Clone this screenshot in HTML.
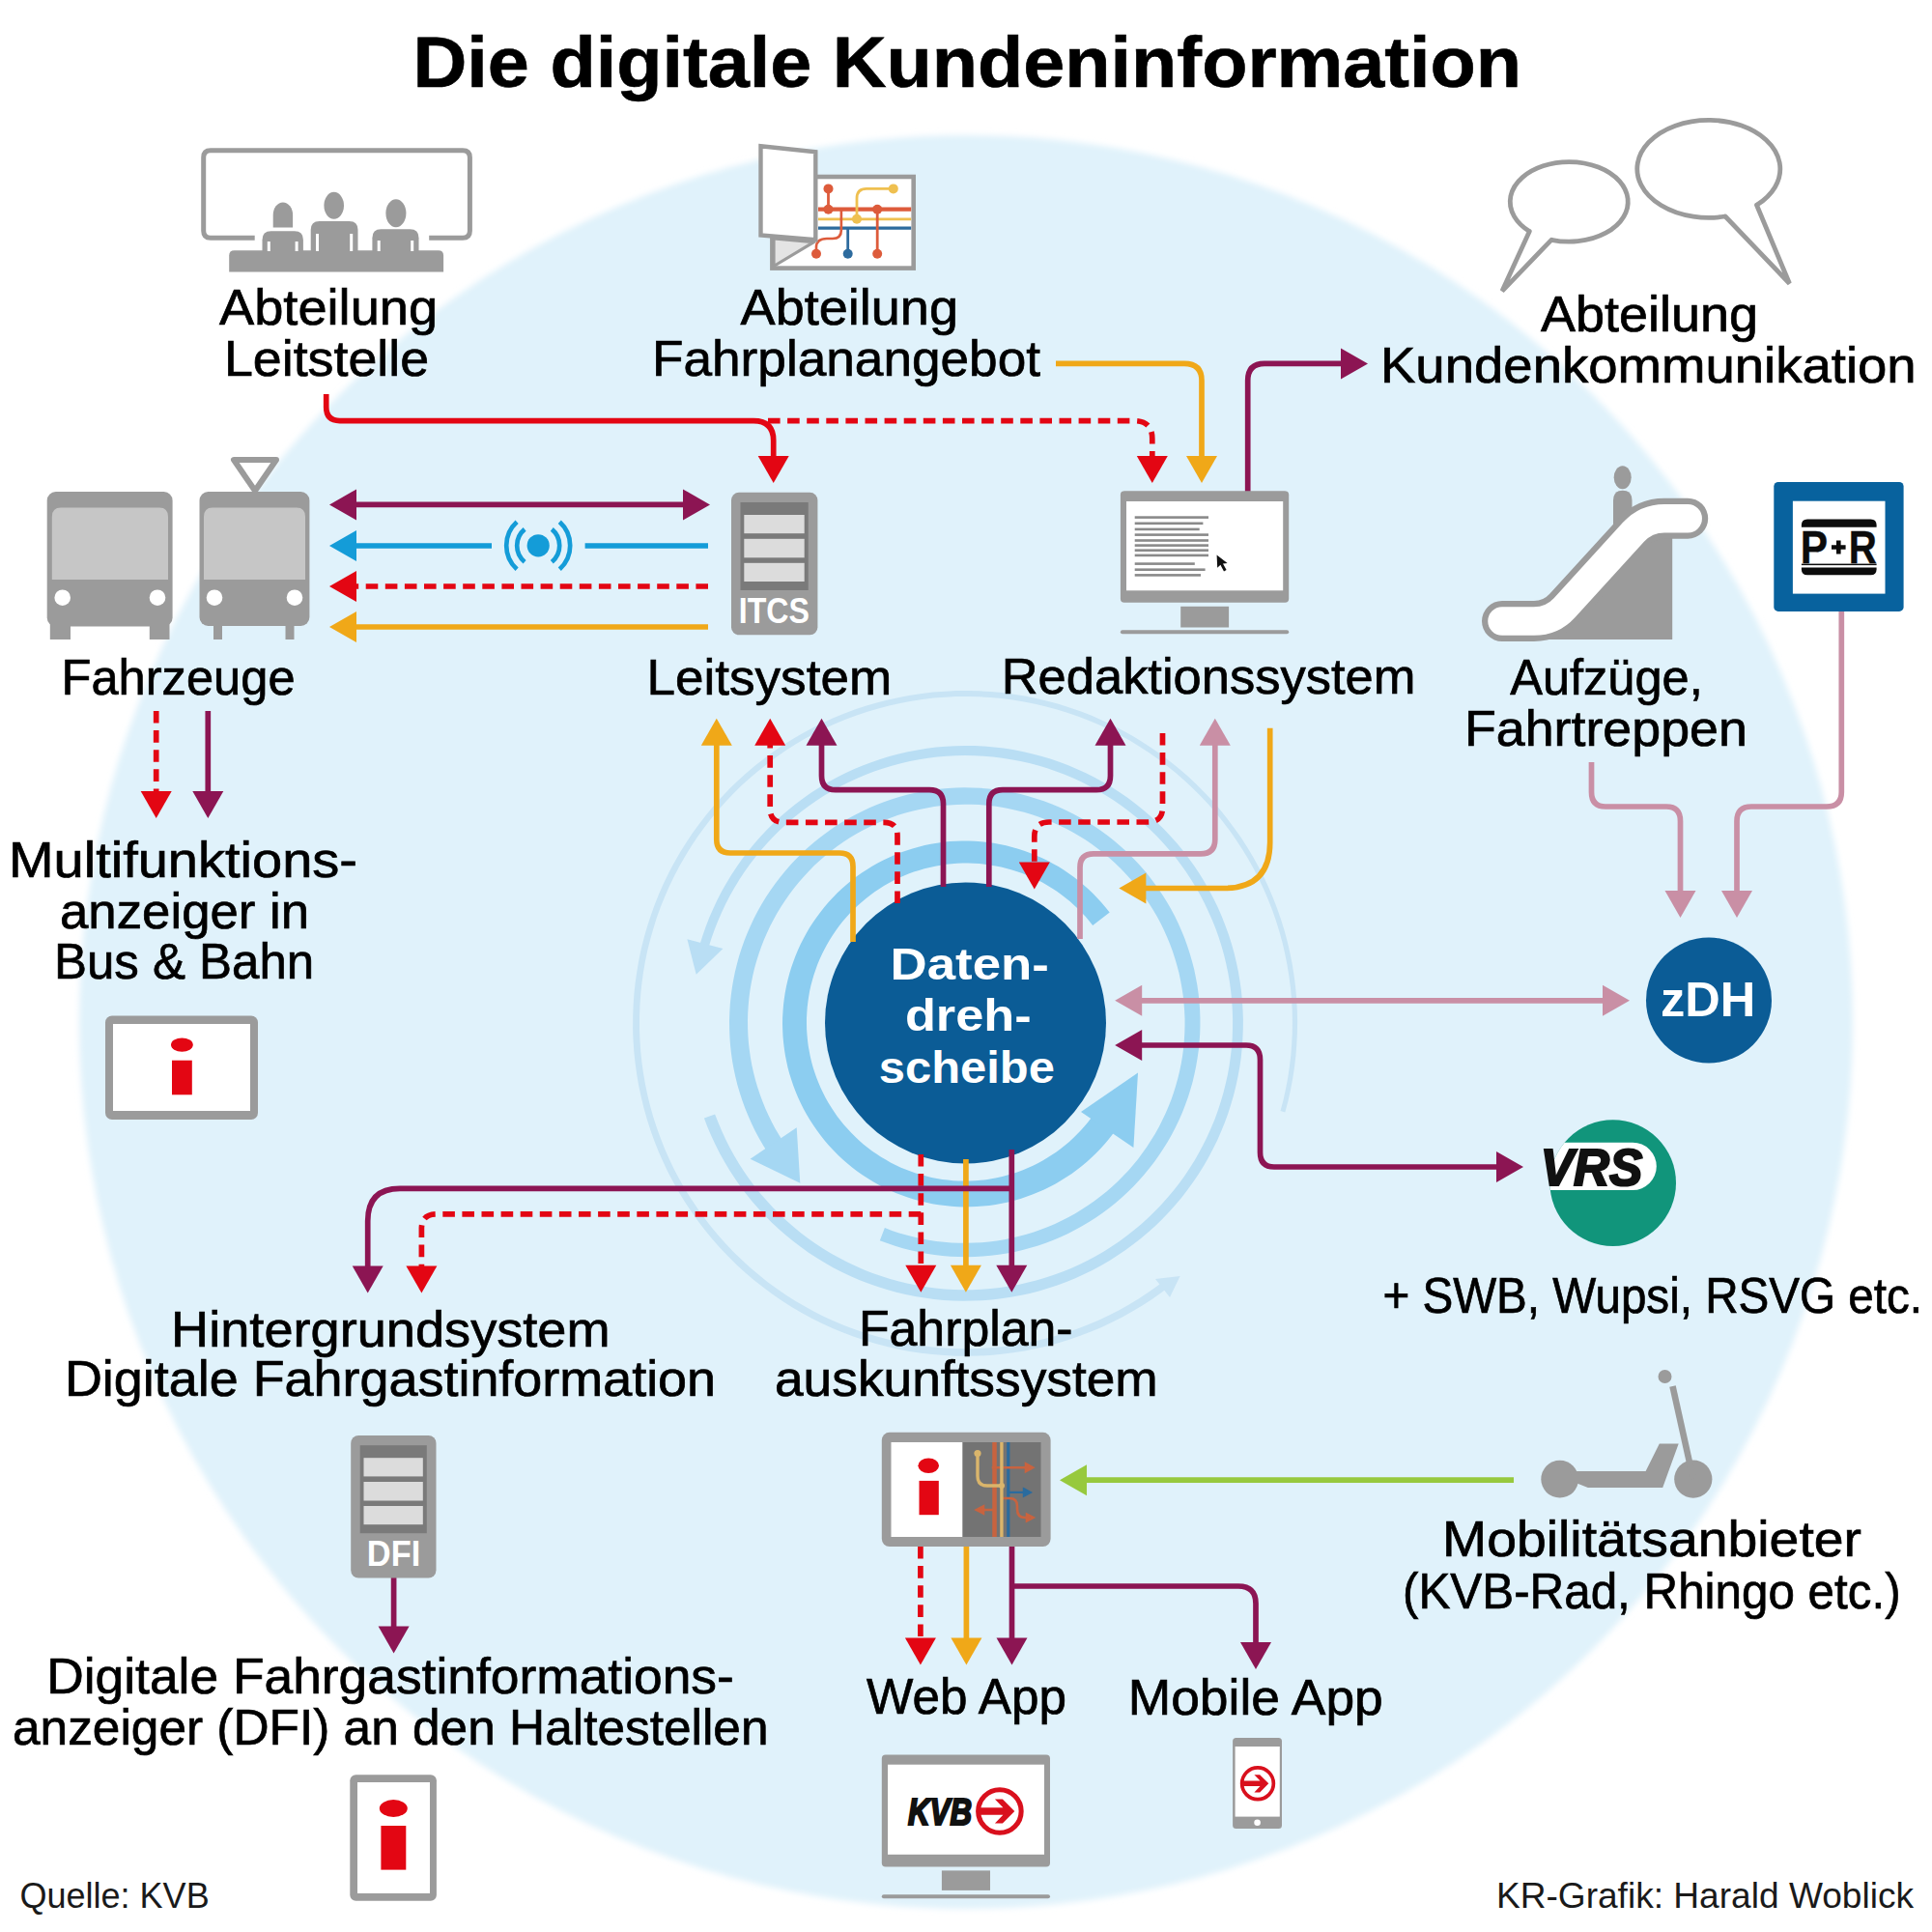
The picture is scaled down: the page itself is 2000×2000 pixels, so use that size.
<!DOCTYPE html>
<html><head><meta charset="utf-8"><title>Die digitale Kundeninformation</title>
<style>html,body{margin:0;padding:0;background:#fff}svg{display:block}text{font-family:"Liberation Sans",sans-serif}</style></head>
<body>
<svg width="2000" height="2000" viewBox="0 0 2000 2000">
<rect width="2000" height="2000" fill="#fff"/>
<defs><filter id="soft" x="-5%" y="-5%" width="110%" height="110%"><feGaussianBlur stdDeviation="3"/></filter></defs>
<circle cx="1000" cy="1058" r="918" fill="#e0f2fb" filter="url(#soft)"/>
<polygon points="1330.3,1151.4 1333.4,1139.9 1336.0,1128.2 1338.2,1116.6 1340.0,1104.8 1341.4,1093.0 1342.3,1081.1 1342.9,1069.2 1343.1,1057.3 1342.8,1045.4 1342.1,1033.5 1341.1,1021.7 1339.6,1009.9 1337.7,998.1 1335.4,986.4 1332.7,974.8 1329.6,963.3 1326.1,952.0 1322.2,940.7 1317.9,929.6 1313.2,918.6 1308.2,907.8 1302.8,897.2 1297.0,886.8 1290.8,876.6 1284.4,866.6 1277.5,856.9 1270.4,847.4 1262.9,838.1 1255.1,829.1 1247.0,820.4 1238.6,811.9 1229.9,803.8 1220.9,796.0 1211.6,788.4 1202.2,781.2 1192.4,774.4 1182.4,767.9 1172.3,761.7 1161.9,755.9 1151.3,750.4 1140.5,745.4 1129.5,740.6 1118.4,736.3 1107.2,732.4 1095.8,728.8 1084.3,725.7 1072.7,723.0 1061.0,720.6 1049.3,718.7 1037.5,717.1 1025.6,716.0 1013.7,715.3 1001.8,715.0 989.9,715.1 978.0,715.7 966.1,716.6 954.2,718.0 942.4,719.7 930.7,721.9 919.1,724.5 907.5,727.5 896.1,730.8 884.8,734.6 873.6,738.8 862.6,743.3 851.7,748.2 841.1,753.5 830.6,759.2 820.3,765.2 810.2,771.6 800.4,778.3 790.8,785.4 781.4,792.8 772.3,800.5 763.5,808.5 754.9,816.8 746.7,825.4 738.7,834.3 731.1,843.5 723.8,852.9 716.8,862.6 710.2,872.5 703.9,882.6 697.9,893.0 692.3,903.5 687.1,914.2 682.3,925.1 677.8,936.2 673.8,947.4 670.1,958.8 666.8,970.2 663.9,981.8 661.4,993.5 659.4,1005.2 657.7,1017.0 656.4,1028.9 655.6,1040.8 655.2,1052.7 655.1,1064.7 655.5,1076.6 656.3,1088.5 657.6,1100.4 659.2,1112.2 661.2,1124.0 663.7,1135.6 666.5,1147.2 669.8,1158.7 673.4,1170.1 677.4,1181.3 681.9,1192.4 686.7,1203.3 691.8,1214.1 697.4,1224.6 703.3,1235.0 709.6,1245.2 716.2,1255.1 723.1,1264.8 730.4,1274.3 738.0,1283.5 746.0,1292.4 754.2,1301.1 762.7,1309.4 771.5,1317.5 780.6,1325.2 790.0,1332.6 799.6,1339.7 809.4,1346.5 819.5,1352.9 829.8,1359.0 840.3,1364.7 850.9,1370.1 861.8,1375.0 872.8,1379.6 884.0,1383.8 895.3,1387.6 906.8,1391.0 918.3,1394.1 930.0,1396.7 941.7,1398.9 953.5,1400.7 965.4,1402.1 977.3,1403.1 989.2,1403.7 1001.2,1403.8 1013.1,1403.6 1025.1,1402.9 1037.0,1401.8 1048.8,1400.3 1060.6,1398.4 1072.3,1396.1 1084.0,1393.4 1095.5,1390.3 1106.9,1386.8 1118.2,1382.8 1129.4,1378.5 1140.4,1373.9 1151.2,1368.8 1161.8,1363.4 1172.3,1357.6 1182.5,1351.4 1192.6,1344.9 1202.4,1338.1 1211.9,1330.9 1207.0,1324.6 1197.7,1331.6 1188.1,1338.3 1178.3,1344.7 1168.3,1350.7 1158.1,1356.4 1147.7,1361.7 1137.2,1366.7 1126.4,1371.3 1115.5,1375.5 1104.5,1379.3 1093.3,1382.8 1082.1,1385.8 1070.7,1388.5 1059.2,1390.8 1047.7,1392.7 1036.1,1394.2 1024.5,1395.2 1012.8,1395.9 1001.1,1396.2 989.5,1396.0 977.8,1395.5 966.1,1394.5 954.5,1393.2 943.0,1391.5 931.5,1389.3 920.1,1386.8 908.8,1383.8 897.6,1380.5 886.5,1376.8 875.6,1372.7 864.8,1368.2 854.1,1363.4 843.7,1358.2 833.4,1352.6 823.3,1346.7 813.5,1340.4 803.8,1333.8 794.4,1326.9 785.3,1319.6 776.3,1312.0 767.7,1304.1 759.3,1296.0 751.3,1287.5 743.5,1278.8 736.0,1269.8 728.9,1260.5 722.1,1251.1 715.6,1241.3 709.4,1231.4 703.6,1221.2 698.1,1210.9 693.1,1200.4 688.3,1189.7 684.0,1178.8 680.0,1167.8 676.4,1156.7 673.2,1145.4 670.4,1134.1 668.0,1122.6 666.0,1111.1 664.4,1099.5 663.2,1087.9 662.4,1076.2 662.0,1064.6 662.0,1052.9 662.4,1041.2 663.2,1029.5 664.4,1017.9 666.0,1006.3 668.0,994.8 670.4,983.3 673.3,971.9 676.5,960.7 680.0,949.6 684.0,938.6 688.4,927.7 693.1,917.0 698.2,906.5 703.7,896.1 709.5,886.0 715.6,876.0 722.1,866.3 729.0,856.8 736.1,847.5 743.6,838.5 751.4,829.8 759.5,821.3 767.8,813.1 776.5,805.2 785.4,797.7 794.6,790.4 804.0,783.5 813.7,776.8 823.5,770.6 833.6,764.6 843.9,759.1 854.4,753.8 865.1,749.0 875.9,744.5 886.9,740.4 898.0,736.7 909.2,733.4 920.5,730.4 931.9,727.9 943.5,725.7 955.0,724.0 966.7,722.6 978.3,721.7 990.0,721.1 1001.7,721.0 1013.5,721.3 1025.1,721.9 1036.8,723.0 1048.4,724.5 1060.0,726.4 1071.5,728.7 1082.9,731.4 1094.2,734.4 1105.4,737.9 1116.4,741.8 1127.4,746.0 1138.1,750.6 1148.7,755.6 1159.2,760.9 1169.4,766.6 1179.4,772.7 1189.2,779.1 1198.8,785.8 1208.2,792.9 1217.3,800.3 1226.1,807.9 1234.7,815.9 1243.0,824.2 1251.0,832.8 1258.7,841.6 1266.0,850.7 1273.1,860.1 1279.8,869.7 1286.2,879.5 1292.3,889.5 1298.0,899.8 1303.3,910.2 1308.3,920.8 1312.9,931.6 1317.2,942.5 1321.0,953.6 1324.5,964.8 1327.6,976.1 1330.2,987.5 1332.5,999.0 1334.4,1010.6 1335.9,1022.2 1337.0,1033.9 1337.7,1045.6 1337.9,1057.3 1337.8,1069.1 1337.2,1080.8 1336.3,1092.5 1334.9,1104.1 1333.2,1115.7 1331.0,1127.2 1328.5,1138.7 1325.5,1150.0" fill="#c8e4f5"/>
<polygon points="1221.6,1321.0 1196.0,1324.0 1211.0,1343.0" fill="#c8e4f5"/>
<polygon points="728.9,1157.5 732.4,1166.8 736.4,1176.0 740.6,1185.0 745.1,1193.9 749.9,1202.6 755.1,1211.2 760.5,1219.6 766.2,1227.8 772.2,1235.7 778.4,1243.5 785.0,1251.0 791.8,1258.3 798.8,1265.4 806.1,1272.2 813.6,1278.8 821.3,1285.1 829.2,1291.1 837.4,1296.9 845.7,1302.3 854.3,1307.5 862.9,1312.4 871.8,1317.0 880.8,1321.2 890.0,1325.2 899.3,1328.8 908.7,1332.1 918.2,1335.1 927.8,1337.7 937.5,1340.0 947.3,1342.0 957.1,1343.6 967.0,1344.9 976.9,1345.9 986.9,1346.5 996.8,1346.7 1006.8,1346.6 1016.7,1346.2 1026.7,1345.4 1036.6,1344.3 1046.4,1342.8 1056.2,1341.0 1066.0,1338.9 1075.6,1336.4 1085.2,1333.6 1094.6,1330.5 1104.0,1327.0 1113.2,1323.2 1122.3,1319.1 1131.2,1314.7 1140.0,1310.0 1148.6,1305.0 1157.0,1299.6 1165.2,1294.0 1173.3,1288.1 1181.1,1282.0 1188.7,1275.6 1196.1,1268.9 1203.2,1261.9 1210.1,1254.7 1216.8,1247.3 1223.2,1239.7 1229.3,1231.8 1235.1,1223.8 1240.7,1215.5 1246.0,1207.0 1250.9,1198.4 1255.6,1189.6 1260.0,1180.7 1264.0,1171.6 1267.8,1162.3 1271.2,1153.0 1274.2,1143.5 1277.0,1133.9 1279.4,1124.3 1281.5,1114.5 1283.3,1104.7 1284.7,1094.9 1285.7,1085.0 1286.4,1075.1 1286.8,1065.1 1286.9,1055.2 1286.5,1045.2 1285.9,1035.3 1284.9,1025.4 1283.5,1015.5 1281.9,1005.7 1279.8,996.0 1277.5,986.3 1274.8,976.7 1271.8,967.2 1268.4,957.9 1264.7,948.6 1260.8,939.5 1256.4,930.5 1251.8,921.7 1246.9,913.0 1241.7,904.6 1236.2,896.3 1230.4,888.2 1224.4,880.3 1218.0,872.6 1211.4,865.2 1204.6,857.9 1197.5,851.0 1190.2,844.2 1182.6,837.8 1174.8,831.6 1166.9,825.6 1158.7,820.0 1150.3,814.6 1141.7,809.5 1133.0,804.8 1124.1,800.3 1115.1,796.2 1105.9,792.3 1096.6,788.8 1087.2,785.6 1077.7,782.7 1068.0,780.2 1058.4,778.0 1048.6,776.1 1038.8,774.6 1028.9,773.4 1019.0,772.6 1009.0,772.1 999.1,772.0 989.2,772.2 979.2,772.7 969.3,773.6 959.5,774.8 949.6,776.4 939.9,778.3 930.2,780.5 920.6,783.1 911.1,786.0 901.7,789.2 892.4,792.8 883.3,796.6 874.2,800.8 865.4,805.3 856.7,810.1 848.2,815.2 839.8,820.6 831.7,826.3 823.7,832.3 816.0,838.5 808.4,845.0 801.1,851.8 794.1,858.8 787.3,866.0 780.7,873.5 774.4,881.2 768.4,889.1 762.7,897.2 757.2,905.5 752.1,914.0 747.2,922.6 742.6,931.4 738.4,940.4 734.4,949.5 730.8,958.8 727.5,968.2 724.5,977.6 721.9,987.2 731.1,989.6 733.7,980.3 736.5,971.2 739.8,962.1 743.3,953.2 747.1,944.4 751.2,935.7 755.6,927.2 760.4,918.8 765.4,910.6 770.7,902.6 776.2,894.8 782.0,887.2 788.1,879.7 794.5,872.5 801.1,865.5 807.9,858.8 814.9,852.3 822.2,846.0 829.7,840.0 837.4,834.3 845.3,828.8 853.3,823.6 861.6,818.7 870.0,814.1 878.6,809.7 887.3,805.7 896.1,802.0 905.1,798.5 914.2,795.4 923.3,792.7 932.6,790.2 942.0,788.0 951.4,786.2 960.9,784.7 970.4,783.6 979.9,782.7 989.5,782.2 999.1,782.0 1008.7,782.2 1018.3,782.7 1027.8,783.5 1037.4,784.7 1046.8,786.2 1056.3,788.0 1065.6,790.1 1074.9,792.6 1084.1,795.3 1093.1,798.4 1102.1,801.8 1111.0,805.6 1119.7,809.6 1128.2,813.9 1136.6,818.5 1144.9,823.4 1152.9,828.6 1160.8,834.0 1168.5,839.8 1176.0,845.8 1183.3,852.0 1190.3,858.5 1197.2,865.2 1203.7,872.2 1210.1,879.4 1216.2,886.8 1222.0,894.4 1227.6,902.2 1232.8,910.2 1237.9,918.4 1242.6,926.7 1247.0,935.2 1251.1,943.9 1255.0,952.7 1258.5,961.6 1261.7,970.6 1264.6,979.8 1267.2,989.0 1269.4,998.3 1271.4,1007.7 1273.0,1017.1 1274.2,1026.6 1275.2,1036.2 1275.8,1045.7 1276.1,1055.3 1276.0,1064.9 1275.7,1074.5 1275.0,1084.0 1273.9,1093.5 1272.6,1103.0 1270.9,1112.5 1268.8,1121.8 1266.5,1131.1 1263.8,1140.3 1260.8,1149.4 1257.6,1158.4 1253.9,1167.3 1250.0,1176.0 1245.8,1184.6 1241.3,1193.1 1236.5,1201.4 1231.4,1209.5 1226.1,1217.4 1220.5,1225.2 1214.6,1232.7 1208.4,1240.1 1202.0,1247.2 1195.4,1254.1 1188.5,1260.7 1181.4,1267.2 1174.1,1273.3 1166.5,1279.2 1158.8,1284.9 1150.9,1290.3 1142.8,1295.4 1134.5,1300.2 1126.1,1304.7 1117.5,1308.9 1108.7,1312.9 1099.9,1316.5 1090.9,1319.8 1081.8,1322.8 1072.6,1325.5 1063.3,1327.8 1054.0,1329.9 1044.6,1331.6 1035.1,1333.0 1025.6,1334.1 1016.1,1334.8 1006.5,1335.2 996.9,1335.3 987.4,1335.0 977.8,1334.4 968.3,1333.5 958.8,1332.2 949.4,1330.6 940.0,1328.7 930.7,1326.5 921.5,1324.0 912.3,1321.1 903.3,1317.9 894.4,1314.4 885.6,1310.6 877.0,1306.5 868.5,1302.1 860.2,1297.4 852.0,1292.4 844.0,1287.2 836.2,1281.7 828.6,1275.9 821.2,1269.8 814.0,1263.5 807.0,1256.9 800.3,1250.2 793.8,1243.1 787.5,1235.9 781.5,1228.4 775.8,1220.8 770.4,1212.9 765.2,1204.9 760.3,1196.7 755.6,1188.3 751.3,1179.8 747.3,1171.1 743.6,1162.3 740.1,1153.4" fill="#b9def4"/>
<polygon points="720.7,1008.7 711.4,972.2 748.4,982.0" fill="#b9def4"/>
<polygon points="910.8,1284.2 918.6,1287.1 926.5,1289.8 934.6,1292.2 942.6,1294.3 950.8,1296.1 959.0,1297.7 967.3,1299.0 975.6,1300.0 983.9,1300.7 992.3,1301.1 1000.6,1301.2 1009.0,1301.0 1017.3,1300.6 1025.7,1299.8 1034.0,1298.8 1042.2,1297.5 1050.5,1295.9 1058.6,1294.0 1066.7,1291.8 1074.7,1289.4 1082.6,1286.7 1090.4,1283.7 1098.1,1280.4 1105.7,1276.9 1113.2,1273.1 1120.5,1269.1 1127.7,1264.8 1134.8,1260.2 1141.6,1255.5 1148.3,1250.5 1154.9,1245.2 1161.2,1239.8 1167.4,1234.1 1173.3,1228.2 1179.1,1222.1 1184.6,1215.8 1189.9,1209.3 1195.0,1202.7 1199.9,1195.8 1204.5,1188.8 1208.9,1181.7 1213.0,1174.4 1216.9,1167.0 1220.5,1159.4 1223.9,1151.7 1226.9,1143.9 1229.8,1136.0 1232.3,1128.0 1234.6,1120.0 1236.5,1111.8 1238.2,1103.6 1239.6,1095.3 1240.8,1087.0 1241.6,1078.7 1242.2,1070.3 1242.4,1061.9 1242.4,1053.5 1242.1,1045.1 1241.5,1036.8 1240.6,1028.4 1239.4,1020.1 1237.9,1011.9 1236.2,1003.6 1234.1,995.5 1231.8,987.4 1229.2,979.4 1226.4,971.6 1223.2,963.8 1219.8,956.1 1216.2,948.5 1212.2,941.1 1208.0,933.8 1203.6,926.7 1198.9,919.7 1194.0,912.9 1188.9,906.3 1183.5,899.8 1177.9,893.5 1172.1,887.5 1166.1,881.6 1159.9,875.9 1153.5,870.5 1146.9,865.3 1140.1,860.3 1133.2,855.5 1126.1,851.0 1118.8,846.8 1111.4,842.8 1103.9,839.0 1096.3,835.5 1088.5,832.3 1080.6,829.3 1072.6,826.7 1064.6,824.3 1056.4,822.1 1048.2,820.3 1040.0,818.7 1031.6,817.5 1023.3,816.5 1014.9,815.8 1006.5,815.4 998.1,815.3 989.7,815.5 981.2,815.9 972.9,816.7 964.5,817.7 956.2,819.1 947.9,820.7 939.7,822.6 931.6,824.8 923.5,827.2 915.6,830.0 907.7,833.0 900.0,836.3 892.3,839.9 884.8,843.7 877.4,847.7 870.2,852.1 863.1,856.6 856.2,861.5 849.5,866.5 842.9,871.8 836.5,877.3 830.3,883.0 824.3,889.0 818.6,895.1 813.0,901.4 807.7,908.0 802.5,914.7 797.7,921.5 793.0,928.6 788.6,935.8 784.5,943.1 780.6,950.6 777.0,958.2 773.6,966.0 770.5,973.8 767.7,981.8 765.1,989.8 762.9,997.9 760.9,1006.1 759.2,1014.4 757.8,1022.7 756.7,1031.1 755.8,1039.5 755.3,1047.9 755.0,1056.4 755.1,1064.8 755.4,1073.2 756.0,1081.7 756.9,1090.1 758.1,1098.4 759.6,1106.7 761.4,1115.0 763.4,1123.2 765.8,1131.3 768.4,1139.3 771.3,1147.3 774.5,1155.1 777.9,1162.8 781.6,1170.4 785.6,1177.9 789.8,1185.2 794.3,1192.4 799.0,1199.4 815.0,1188.2 810.7,1181.7 806.5,1175.1 802.6,1168.4 798.9,1161.6 795.5,1154.6 792.3,1147.5 789.4,1140.3 786.7,1133.0 784.2,1125.6 782.0,1118.1 780.1,1110.6 778.4,1103.0 777.0,1095.3 775.9,1087.6 775.0,1079.9 774.4,1072.1 774.1,1064.4 774.0,1056.6 774.2,1048.8 774.7,1041.0 775.4,1033.3 776.4,1025.5 777.7,1017.8 779.2,1010.2 781.0,1002.6 783.1,995.1 785.4,987.7 788.0,980.3 790.8,973.1 793.9,965.9 797.2,958.8 800.8,951.9 804.6,945.1 808.6,938.4 812.9,931.9 817.4,925.5 822.1,919.3 827.0,913.2 832.1,907.4 837.4,901.7 842.9,896.1 848.7,890.8 854.5,885.7 860.6,880.8 866.8,876.1 873.2,871.6 879.7,867.3 886.4,863.3 893.2,859.5 900.2,855.9 907.3,852.6 914.4,849.5 921.7,846.7 929.1,844.1 936.5,841.8 944.1,839.7 951.7,837.9 959.3,836.4 967.0,835.1 974.8,834.1 982.6,833.4 990.4,832.9 998.2,832.7 1006.0,832.8 1013.8,833.1 1021.6,833.8 1029.4,834.6 1037.1,835.8 1044.8,837.2 1052.4,838.9 1060.0,840.8 1067.5,843.0 1074.9,845.5 1082.2,848.2 1089.5,851.2 1096.6,854.4 1103.6,857.8 1110.5,861.5 1117.3,865.5 1123.9,869.6 1130.4,874.0 1136.7,878.7 1142.8,883.5 1148.8,888.5 1154.6,893.8 1160.3,899.2 1165.7,904.9 1170.9,910.7 1176.0,916.7 1180.8,922.8 1185.4,929.2 1189.8,935.7 1193.9,942.3 1197.9,949.1 1201.6,956.0 1205.0,963.0 1208.2,970.2 1211.2,977.4 1213.9,984.8 1216.3,992.2 1218.5,999.7 1220.5,1007.3 1222.1,1015.0 1223.5,1022.7 1224.7,1030.4 1225.5,1038.2 1226.1,1046.1 1226.5,1053.9 1226.5,1061.7 1226.3,1069.6 1225.8,1077.4 1225.1,1085.2 1224.1,1093.0 1222.8,1100.7 1221.2,1108.4 1219.4,1116.0 1217.3,1123.6 1215.0,1131.1 1212.4,1138.5 1209.5,1145.8 1206.4,1153.0 1203.0,1160.1 1199.5,1167.1 1195.6,1173.9 1191.5,1180.6 1187.2,1187.2 1182.7,1193.6 1178.0,1199.9 1173.0,1206.0 1167.9,1211.9 1162.5,1217.6 1156.9,1223.2 1151.2,1228.5 1145.2,1233.7 1139.1,1238.6 1132.9,1243.3 1126.4,1247.8 1119.8,1252.1 1113.1,1256.2 1106.2,1260.0 1099.2,1263.6 1092.1,1266.9 1084.9,1270.0 1077.6,1272.8 1070.1,1275.4 1062.6,1277.8 1055.0,1279.8 1047.4,1281.6 1039.7,1283.2 1031.9,1284.4 1024.1,1285.4 1016.3,1286.2 1008.4,1286.6 1000.6,1286.8 992.7,1286.7 984.8,1286.4 977.0,1285.7 969.2,1284.9 961.4,1283.7 953.6,1282.3 946.0,1280.6 938.3,1278.6 930.8,1276.4 923.3,1273.9 915.9,1271.1" fill="#a5d7f3"/>
<polygon points="828.3,1224.7 776.6,1199.8 824.7,1167.2" fill="#a5d7f3"/>
<polygon points="1148.7,944.6 1144.6,939.4 1140.4,934.5 1136.0,929.7 1131.5,925.0 1126.8,920.5 1121.9,916.2 1116.9,912.0 1111.8,908.0 1106.5,904.2 1101.1,900.6 1095.6,897.1 1089.9,893.9 1084.2,890.8 1078.3,888.0 1072.3,885.4 1066.3,882.9 1060.2,880.7 1054.0,878.7 1047.7,876.9 1041.4,875.3 1035.0,873.9 1028.6,872.8 1022.1,871.9 1015.6,871.2 1009.1,870.7 1002.6,870.5 996.1,870.5 989.6,870.7 983.0,871.1 976.5,871.8 970.1,872.7 963.6,873.8 957.3,875.1 950.9,876.7 944.6,878.4 938.4,880.4 932.3,882.6 926.2,885.0 920.2,887.7 914.3,890.5 908.5,893.5 902.8,896.8 897.3,900.2 891.8,903.8 886.5,907.6 881.3,911.6 876.3,915.7 871.4,920.1 866.6,924.6 862.1,929.2 857.6,934.1 853.4,939.0 849.3,944.2 845.4,949.4 841.7,954.8 838.1,960.3 834.8,965.9 831.7,971.7 828.7,977.5 826.0,983.5 823.5,989.5 821.2,995.7 819.0,1001.9 817.2,1008.1 815.5,1014.5 814.0,1020.9 812.8,1027.3 811.8,1033.8 811.0,1040.3 810.5,1046.8 810.1,1053.4 810.0,1059.9 810.2,1066.5 810.5,1073.0 811.1,1079.5 811.9,1086.1 812.9,1092.5 814.2,1099.0 815.6,1105.4 817.3,1111.7 819.3,1118.0 821.4,1124.2 823.7,1130.3 826.3,1136.4 829.0,1142.3 832.0,1148.2 835.2,1153.9 838.5,1159.6 842.1,1165.1 845.9,1170.5 849.8,1175.8 853.9,1180.9 858.2,1185.9 862.7,1190.7 867.3,1195.4 872.1,1199.9 877.0,1204.2 882.1,1208.4 887.3,1212.4 892.7,1216.2 898.2,1219.8 903.8,1223.2 909.5,1226.5 915.4,1229.5 921.3,1232.3 927.3,1234.9 933.5,1237.3 939.7,1239.5 945.9,1241.5 952.3,1243.3 958.7,1244.8 965.1,1246.2 971.6,1247.3 978.2,1248.1 984.7,1248.8 991.3,1249.2 997.9,1249.4 1004.5,1249.3 1011.0,1249.1 1017.6,1248.6 1024.2,1247.9 1030.7,1246.9 1037.2,1245.7 1043.6,1244.4 1050.0,1242.7 1056.4,1240.9 1062.6,1238.8 1068.8,1236.6 1074.9,1234.1 1080.9,1231.4 1086.9,1228.5 1092.7,1225.4 1098.4,1222.1 1104.0,1218.6 1109.5,1214.9 1114.8,1211.0 1120.0,1206.9 1125.1,1202.7 1130.0,1198.3 1134.7,1193.7 1139.3,1188.9 1143.8,1184.0 1148.0,1179.0 1152.1,1173.8 1156.0,1168.4 1159.7,1163.0 1163.2,1157.4 1139.2,1143.0 1136.2,1147.7 1133.1,1152.4 1129.8,1157.0 1126.4,1161.5 1122.8,1165.8 1119.0,1170.0 1115.1,1174.1 1111.1,1178.1 1106.9,1181.9 1102.6,1185.5 1098.2,1189.0 1093.6,1192.4 1088.9,1195.6 1084.2,1198.6 1079.3,1201.5 1074.3,1204.2 1069.3,1206.7 1064.1,1209.0 1058.9,1211.2 1053.6,1213.2 1048.3,1215.0 1042.8,1216.6 1037.4,1218.0 1031.8,1219.3 1026.3,1220.3 1020.7,1221.2 1015.1,1221.8 1009.4,1222.3 1003.8,1222.5 998.1,1222.6 992.4,1222.5 986.8,1222.2 981.1,1221.6 975.5,1220.9 969.9,1220.0 964.4,1218.9 958.9,1217.6 953.4,1216.1 948.0,1214.5 942.6,1212.6 937.3,1210.6 932.1,1208.4 927.0,1206.0 921.9,1203.4 917.0,1200.6 912.1,1197.7 907.3,1194.6 902.7,1191.4 898.2,1187.9 893.7,1184.4 889.5,1180.7 885.3,1176.8 881.3,1172.8 877.4,1168.6 873.7,1164.4 870.1,1159.9 866.6,1155.4 863.4,1150.8 860.3,1146.0 857.3,1141.2 854.5,1136.2 851.9,1131.1 849.5,1126.0 847.3,1120.8 845.2,1115.5 843.3,1110.1 841.6,1104.7 840.1,1099.2 838.8,1093.7 837.7,1088.1 836.7,1082.5 836.0,1076.8 835.5,1071.2 835.1,1065.5 835.0,1059.8 835.0,1054.1 835.3,1048.4 835.7,1042.7 836.4,1037.1 837.2,1031.4 838.2,1025.8 839.4,1020.3 840.9,1014.7 842.5,1009.3 844.3,1003.9 846.2,998.5 848.4,993.2 850.8,988.0 853.3,982.9 856.0,977.9 858.9,973.0 861.9,968.2 865.1,963.4 868.5,958.8 872.0,954.3 875.7,950.0 879.5,945.7 883.5,941.7 887.6,937.7 891.9,933.9 896.3,930.2 900.8,926.7 905.4,923.3 910.1,920.2 915.0,917.1 919.9,914.3 925.0,911.6 930.1,909.1 935.3,906.7 940.6,904.6 946.0,902.6 951.4,900.9 956.9,899.3 962.5,897.9 968.1,896.7 973.7,895.7 979.4,894.8 985.1,894.2 990.8,893.8 996.5,893.6 1002.2,893.6 1007.9,893.7 1013.7,894.1 1019.4,894.7 1025.0,895.4 1030.7,896.4 1036.3,897.5 1041.9,898.9 1047.4,900.4 1052.9,902.2 1058.3,904.1 1063.6,906.2 1068.8,908.5 1074.0,911.0 1079.1,913.6 1084.1,916.4 1089.0,919.4 1093.8,922.6 1098.5,925.9 1103.0,929.4 1107.5,933.1 1111.8,936.9 1115.9,940.8 1120.0,944.9 1123.9,949.1 1127.6,953.5 1131.2,957.9" fill="#8ccdf0"/>
<polygon points="1178.0,1110.6 1119.0,1151.0 1173.4,1188.0" fill="#8ccdf0"/>
<circle cx="999.5" cy="1059" r="145.5" fill="#0b5c96"/>
<text x="427.5" y="90.0" font-size="74" font-weight="bold" font-style="normal" fill="#000" stroke="#000" stroke-width="0.6" textLength="1147.6" lengthAdjust="spacingAndGlyphs">Die digitale Kundeninformation</text>
<text x="227.0" y="336.0" font-size="52" font-weight="normal" font-style="normal" fill="#000" stroke="#000" stroke-width="0.7" textLength="226.1" lengthAdjust="spacingAndGlyphs">Abteilung</text>
<text x="231.9" y="389.0" font-size="52" font-weight="normal" font-style="normal" fill="#000" stroke="#000" stroke-width="0.7" textLength="212.2" lengthAdjust="spacingAndGlyphs">Leitstelle</text>
<text x="766.6" y="336.0" font-size="52" font-weight="normal" font-style="normal" fill="#000" stroke="#000" stroke-width="0.7" textLength="225.4" lengthAdjust="spacingAndGlyphs">Abteilung</text>
<text x="675.0" y="389.3" font-size="52" font-weight="normal" font-style="normal" fill="#000" stroke="#000" stroke-width="0.7" textLength="402.0" lengthAdjust="spacingAndGlyphs">Fahrplanangebot</text>
<text x="1595.0" y="342.8" font-size="52" font-weight="normal" font-style="normal" fill="#000" stroke="#000" stroke-width="0.7" textLength="225.0" lengthAdjust="spacingAndGlyphs">Abteilung</text>
<text x="1429.0" y="395.5" font-size="52" font-weight="normal" font-style="normal" fill="#000" stroke="#000" stroke-width="0.7" textLength="554.7" lengthAdjust="spacingAndGlyphs">Kundenkommunikation</text>
<text x="63.5" y="718.8" font-size="52" font-weight="normal" font-style="normal" fill="#000" stroke="#000" stroke-width="0.7" textLength="242.1" lengthAdjust="spacingAndGlyphs">Fahrzeuge</text>
<text x="669.5" y="718.6" font-size="52" font-weight="normal" font-style="normal" fill="#000" stroke="#000" stroke-width="0.7" textLength="253.6" lengthAdjust="spacingAndGlyphs">Leitsystem</text>
<text x="1036.7" y="718.3" font-size="52" font-weight="normal" font-style="normal" fill="#000" stroke="#000" stroke-width="0.7" textLength="428.7" lengthAdjust="spacingAndGlyphs">Redaktionssystem</text>
<text x="1563.2" y="718.7" font-size="52" font-weight="normal" font-style="normal" fill="#000" stroke="#000" stroke-width="0.7" textLength="199.5" lengthAdjust="spacingAndGlyphs">Aufzüge,</text>
<text x="1515.9" y="771.8" font-size="52" font-weight="normal" font-style="normal" fill="#000" stroke="#000" stroke-width="0.7" textLength="293.0" lengthAdjust="spacingAndGlyphs">Fahrtreppen</text>
<text x="8.9" y="907.7" font-size="52" font-weight="normal" font-style="normal" fill="#000" stroke="#000" stroke-width="0.7" textLength="361.1" lengthAdjust="spacingAndGlyphs">Multifunktions-</text>
<text x="62.0" y="960.5" font-size="52" font-weight="normal" font-style="normal" fill="#000" stroke="#000" stroke-width="0.7" textLength="258.1" lengthAdjust="spacingAndGlyphs">anzeiger in</text>
<text x="55.9" y="1013.0" font-size="52" font-weight="normal" font-style="normal" fill="#000" stroke="#000" stroke-width="0.7" textLength="269.2" lengthAdjust="spacingAndGlyphs">Bus &amp; Bahn</text>
<text x="1431.4" y="1359.0" font-size="52" font-weight="normal" font-style="normal" fill="#000" stroke="#000" stroke-width="0.7" textLength="558.7" lengthAdjust="spacingAndGlyphs">+ SWB, Wupsi, RSVG etc.</text>
<text x="177.1" y="1393.5" font-size="52" font-weight="normal" font-style="normal" fill="#000" stroke="#000" stroke-width="0.7" textLength="454.5" lengthAdjust="spacingAndGlyphs">Hintergrundsystem</text>
<text x="66.9" y="1445.3" font-size="52" font-weight="normal" font-style="normal" fill="#000" stroke="#000" stroke-width="0.7" textLength="674.2" lengthAdjust="spacingAndGlyphs">Digitale Fahrgastinformation</text>
<text x="888.9" y="1392.8" font-size="52" font-weight="normal" font-style="normal" fill="#000" stroke="#000" stroke-width="0.7" textLength="221.7" lengthAdjust="spacingAndGlyphs">Fahrplan-</text>
<text x="802.0" y="1445.0" font-size="52" font-weight="normal" font-style="normal" fill="#000" stroke="#000" stroke-width="0.7" textLength="396.7" lengthAdjust="spacingAndGlyphs">auskunftssystem</text>
<text x="1493.0" y="1610.5" font-size="52" font-weight="normal" font-style="normal" fill="#000" stroke="#000" stroke-width="0.7" textLength="434.0" lengthAdjust="spacingAndGlyphs">Mobilitätsanbieter</text>
<text x="1452.0" y="1665.0" font-size="52" font-weight="normal" font-style="normal" fill="#000" stroke="#000" stroke-width="0.7" textLength="515.6" lengthAdjust="spacingAndGlyphs">(KVB-Rad, Rhingo etc.)</text>
<text x="48.2" y="1752.8" font-size="52" font-weight="normal" font-style="normal" fill="#000" stroke="#000" stroke-width="0.7" textLength="711.6" lengthAdjust="spacingAndGlyphs">Digitale Fahrgastinformations-</text>
<text x="13.0" y="1805.8" font-size="52" font-weight="normal" font-style="normal" fill="#000" stroke="#000" stroke-width="0.7" textLength="782.5" lengthAdjust="spacingAndGlyphs">anzeiger (DFI) an den Haltestellen</text>
<text x="897.0" y="1774.0" font-size="52" font-weight="normal" font-style="normal" fill="#000" stroke="#000" stroke-width="0.7" textLength="207.0" lengthAdjust="spacingAndGlyphs">Web App</text>
<text x="1167.7" y="1774.5" font-size="52" font-weight="normal" font-style="normal" fill="#000" stroke="#000" stroke-width="0.7" textLength="264.1" lengthAdjust="spacingAndGlyphs">Mobile App</text>
<text x="20.4" y="1974.6" font-size="37.5" font-weight="normal" font-style="normal" fill="#1a1a1a" textLength="196.3" lengthAdjust="spacingAndGlyphs">Quelle: KVB</text>
<text x="1548.9" y="1974.6" font-size="37.5" font-weight="normal" font-style="normal" fill="#1a1a1a" textLength="432.2" lengthAdjust="spacingAndGlyphs">KR-Grafik: Harald Woblick</text>
<text x="921.5" y="1013.6" font-size="47" font-weight="bold" font-style="normal" fill="#fff" textLength="164.4" lengthAdjust="spacingAndGlyphs">Daten-</text>
<text x="936.9" y="1067.2" font-size="47" font-weight="bold" font-style="normal" fill="#fff" textLength="130.8" lengthAdjust="spacingAndGlyphs">dreh-</text>
<text x="909.8" y="1120.5" font-size="47" font-weight="bold" font-style="normal" fill="#fff" textLength="182.1" lengthAdjust="spacingAndGlyphs">scheibe</text>
<path d="M337.7,408 V421.6 Q337.7,435.6 351.7,435.6 H780 Q800.7,435.6 800.7,456 V476" fill="none" stroke="#e30613" stroke-width="5.7" />
<polygon points="800.7,500.0 784.7,472.0 816.7,472.0" fill="#e30613"/>
<path d="M795,435.6 H1174 Q1192.8,435.6 1192.8,454 V476" fill="none" stroke="#e30613" stroke-width="5.7" stroke-dasharray="12.6 7.5" />
<polygon points="1192.8,500.0 1176.8,472.0 1208.8,472.0" fill="#e30613"/>
<path d="M1093,376.4 H1226 Q1244,376.4 1244,394 V476" fill="none" stroke="#f0a818" stroke-width="5.7" />
<polygon points="1244.0,500.0 1228.0,472.0 1260.0,472.0" fill="#f0a818"/>
<path d="M1291.7,510 V394 Q1291.7,376.4 1309,376.4 H1390" fill="none" stroke="#8c1553" stroke-width="5.7" />
<polygon points="1416.0,376.4 1388.0,392.4 1388.0,360.4" fill="#8c1553"/>
<path d="M366,522.4 H710" fill="none" stroke="#8c1553" stroke-width="5.7" />
<polygon points="341.0,522.4 369.0,506.4 369.0,538.4" fill="#8c1553"/>
<polygon points="735.0,522.4 707.0,538.4 707.0,506.4" fill="#8c1553"/>
<path d="M366,565 H509 M605.6,565 H733" fill="none" stroke="#149cd8" stroke-width="5.7" />
<polygon points="341.0,565.0 369.0,549.0 369.0,581.0" fill="#149cd8"/>
<path d="M733,607 H366" fill="none" stroke="#e30613" stroke-width="5.7" stroke-dasharray="12.6 7.5" />
<polygon points="341.0,607.0 369.0,591.0 369.0,623.0" fill="#e30613"/>
<path d="M366,649 H733" fill="none" stroke="#f0a818" stroke-width="5.7" />
<polygon points="341.0,649.0 369.0,633.0 369.0,665.0" fill="#f0a818"/>
<circle cx="557.2" cy="564.8" r="11.6" fill="#149cd8"/>
<path d="M571.3,547.9 A22,22 0 0 1 571.3,581.7" fill="none" stroke="#149cd8" stroke-width="4.7"/>
<path d="M543.1,547.9 A22,22 0 0 0 543.1,581.7" fill="none" stroke="#149cd8" stroke-width="4.7"/>
<path d="M579.3,540.3 A33,33 0 0 1 579.3,589.3" fill="none" stroke="#149cd8" stroke-width="4.7"/>
<path d="M535.1,540.3 A33,33 0 0 0 535.1,589.3" fill="none" stroke="#149cd8" stroke-width="4.7"/>
<path d="M161.7,736 V822" fill="none" stroke="#e30613" stroke-width="5.7" stroke-dasharray="12.6 7.5" />
<polygon points="161.7,847.0 145.7,819.0 177.7,819.0" fill="#e30613"/>
<path d="M215.3,736 V822" fill="none" stroke="#8c1553" stroke-width="5.7" />
<polygon points="215.3,847.0 199.3,819.0 231.3,819.0" fill="#8c1553"/>
<path d="M883,975 V897 Q883,883 869,883 H756 Q741.8,883 741.8,869 V768" fill="none" stroke="#f0a818" stroke-width="5.7" />
<polygon points="741.8,743.7 757.8,771.7 725.8,771.7" fill="#f0a818"/>
<path d="M929,935 V865 Q929,851.3 915,851.3 H811 Q797.2,851.3 797.2,837 V768" fill="none" stroke="#e30613" stroke-width="5.7" stroke-dasharray="12.6 7.5" />
<polygon points="797.2,743.7 813.2,771.7 781.2,771.7" fill="#e30613"/>
<path d="M976.5,918 V832 Q976.5,817.7 962,817.7 H865 Q850.5,817.7 850.5,803 V768" fill="none" stroke="#8c1553" stroke-width="5.7" />
<polygon points="850.5,743.7 866.5,771.7 834.5,771.7" fill="#8c1553"/>
<path d="M1023.8,918 V832 Q1023.8,817.7 1038,817.7 H1135 Q1149.5,817.7 1149.5,803 V768" fill="none" stroke="#8c1553" stroke-width="5.7" />
<polygon points="1149.5,743.7 1165.5,771.7 1133.5,771.7" fill="#8c1553"/>
<path d="M1203.5,759 V836 Q1203.5,851 1188,851 H1086 Q1070.8,851 1070.8,866 V897" fill="none" stroke="#e30613" stroke-width="5.7" stroke-dasharray="12.6 7.5" />
<polygon points="1070.8,920.5 1054.8,892.5 1086.8,892.5" fill="#e30613"/>
<path d="M1118,972 V898 Q1118,883.9 1132,883.9 H1243 Q1257.8,883.9 1257.8,869 V768" fill="none" stroke="#c98fa5" stroke-width="5.7" />
<polygon points="1257.8,743.7 1273.8,771.7 1241.8,771.7" fill="#c98fa5"/>
<path d="M1314.7,753.8 V872 Q1314.7,919.5 1267,919.5 H1182" fill="none" stroke="#f0a818" stroke-width="5.7" />
<polygon points="1158.4,919.5 1186.4,903.5 1186.4,935.5" fill="#f0a818"/>
<path d="M1180,1035.8 H1662" fill="none" stroke="#c98fa5" stroke-width="5.7" />
<polygon points="1154.2,1035.8 1182.2,1019.8 1182.2,1051.8" fill="#c98fa5"/>
<polygon points="1687.0,1035.8 1659.0,1051.8 1659.0,1019.8" fill="#c98fa5"/>
<path d="M1180,1082 H1290 Q1304.5,1082 1304.5,1097 V1193 Q1304.5,1208 1319,1208 H1552" fill="none" stroke="#8c1553" stroke-width="5.7" />
<polygon points="1154.2,1082.0 1182.2,1066.0 1182.2,1098.0" fill="#8c1553"/>
<polygon points="1577.0,1208.0 1549.0,1224.0 1549.0,1192.0" fill="#8c1553"/>
<path d="M1647.5,789 V820 Q1647.5,835 1662,835 H1725 Q1739.5,835 1739.5,850 V925" fill="none" stroke="#c98fa5" stroke-width="5.7" />
<polygon points="1739.5,950.0 1723.5,922.0 1755.5,922.0" fill="#c98fa5"/>
<path d="M1906.3,630 V820 Q1906.3,835 1891,835 H1813 Q1798,835 1798,850 V925" fill="none" stroke="#c98fa5" stroke-width="5.7" />
<polygon points="1798.0,950.0 1782.0,922.0 1814.0,922.0" fill="#c98fa5"/>
<path d="M953.3,1195 V1313" fill="none" stroke="#e30613" stroke-width="5.7" stroke-dasharray="12.6 7.5" />
<polygon points="953.3,1337.8 937.3,1309.8 969.3,1309.8" fill="#e30613"/>
<path d="M999.9,1200 V1313" fill="none" stroke="#f0a818" stroke-width="5.7" />
<polygon points="999.9,1337.8 983.9,1309.8 1015.9,1309.8" fill="#f0a818"/>
<path d="M1047.3,1190 V1313" fill="none" stroke="#8c1553" stroke-width="5.7" />
<polygon points="1047.3,1337.8 1031.3,1309.8 1063.3,1309.8" fill="#8c1553"/>
<path d="M1047.3,1230.3 H414 Q380.7,1230.3 380.7,1264 V1313" fill="none" stroke="#8c1553" stroke-width="5.7" />
<polygon points="380.7,1338.4 364.7,1310.4 396.7,1310.4" fill="#8c1553"/>
<path d="M953.3,1256.8 H452 Q436.4,1256.8 436.4,1272 V1313" fill="none" stroke="#e30613" stroke-width="5.7" stroke-dasharray="12.6 7.5" />
<polygon points="436.4,1338.4 420.4,1310.4 452.4,1310.4" fill="#e30613"/>
<path d="M407.6,1633 V1686" fill="none" stroke="#8c1553" stroke-width="5.7" />
<polygon points="407.6,1711.5 391.6,1683.5 423.6,1683.5" fill="#8c1553"/>
<path d="M952.9,1601 V1700" fill="none" stroke="#e30613" stroke-width="5.7" stroke-dasharray="12.6 7.5" />
<polygon points="952.9,1723.6 936.9,1695.6 968.9,1695.6" fill="#e30613"/>
<path d="M1000.4,1601 V1700" fill="none" stroke="#f0a818" stroke-width="5.7" />
<polygon points="1000.4,1723.6 984.4,1695.6 1016.4,1695.6" fill="#f0a818"/>
<path d="M1047.5,1601 V1700" fill="none" stroke="#8c1553" stroke-width="5.7" />
<polygon points="1047.5,1723.6 1031.5,1695.6 1063.5,1695.6" fill="#8c1553"/>
<path d="M1047.5,1642 H1282 Q1300,1642 1300,1660 V1704" fill="none" stroke="#8c1553" stroke-width="5.7" />
<polygon points="1300.0,1728.0 1284.0,1700.0 1316.0,1700.0" fill="#8c1553"/>
<path d="M1122,1532.2 H1567" fill="none" stroke="#97c93d" stroke-width="5.7" />
<polygon points="1097.0,1532.2 1125.0,1516.2 1125.0,1548.2" fill="#97c93d"/>
<path d="M263.7,246.3 H218 Q210.7,246.3 210.7,239 V163 Q210.7,155.7 218,155.7 H479 Q486.4,155.7 486.4,163 V239 Q486.4,246.3 479,246.3 H444.2" fill="none" stroke="#9b9b9b" stroke-width="5"/>
<path d="M237.2,281.5 V264.5 Q237.2,259.2 242.5,259.2 H453.8 Q459.1,259.2 459.1,264.5 V281.5 Z" fill="#9b9b9b"/>
<path d="M282.7,235.5 V222.5 A10.2,13 0 0 1 303.09999999999997,222.5 V235.5 Z" fill="#9b9b9b"/>
<path d="M271.5,263 V248.3 Q271.5,239.3 280.5,239.3 H304.9 Q313.9,239.3 313.9,248.3 V263 Z" fill="#9b9b9b"/>
<path d="M278.3,260 V250 M307.09999999999997,260 V250" stroke="#fff" stroke-width="3" fill="none"/>
<ellipse cx="345.7" cy="212.8" rx="10.3" ry="14" fill="#9b9b9b"/>
<path d="M321.7,263 V238 Q321.7,229 330.7,229 H361.5 Q370.5,229 370.5,238 V263 Z" fill="#9b9b9b"/>
<path d="M328.5,260 V242 M363.7,260 V242" stroke="#fff" stroke-width="3" fill="none"/>
<ellipse cx="409.9" cy="220.8" rx="10.5" ry="14.5" fill="#9b9b9b"/>
<path d="M385.4,263 V246.3 Q385.4,237.3 394.4,237.3 H424.5 Q433.5,237.3 433.5,246.3 V263 Z" fill="#9b9b9b"/>
<path d="M392.2,260 V249 M426.7,260 V249" stroke="#fff" stroke-width="3" fill="none"/>
<rect x="48.7" y="509.0" width="129.9" height="139.4" rx="9" fill="#9b9b9b" />
<path d="M53.8,600 V535 Q53.8,525.5 63,525.5 H165 Q174,525.5 174,535 V600 Z" fill="#c6c6c6"/>
<circle cx="64.7" cy="618.7" r="8.3" fill="#fff"/><circle cx="163" cy="618.7" r="8.3" fill="#fff"/>
<rect x="51.8" y="645" width="21.2" height="17" fill="#9b9b9b"/><rect x="154.8" y="645" width="20.7" height="17" fill="#9b9b9b"/>
<rect x="206.5" y="509.0" width="113.9" height="139.0" rx="9" fill="#9b9b9b" />
<path d="M211,600 V535 Q211,525.5 220,525.5 H307 Q316,525.5 316,535 V600 Z" fill="#c6c6c6"/>
<circle cx="222" cy="618.7" r="8.3" fill="#fff"/><circle cx="305" cy="618.7" r="8.3" fill="#fff"/>
<rect x="221" y="645" width="9" height="17" fill="#9b9b9b"/><rect x="295.5" y="645" width="9" height="17" fill="#9b9b9b"/>
<path d="M242,476 H286 L264,508 Z" fill="none" stroke="#9b9b9b" stroke-width="6" stroke-linejoin="round"/>
<rect x="757.0" y="509.8" width="89.4" height="147.5" rx="8" fill="#9b9b9b" />
<rect x="766.5" y="520.0" width="70.2" height="91.0" fill="#7a7a7a"/>
<rect x="770.3" y="533.0" width="62.4" height="19.2" fill="#dcdcdc"/>
<rect x="770.3" y="557.8" width="62.4" height="19.5" fill="#dcdcdc"/>
<rect x="770.3" y="582.8" width="62.4" height="19.2" fill="#dcdcdc"/>
<text x="764.8" y="645.0" font-size="36" font-weight="bold" font-style="normal" fill="#fff" textLength="73.2" lengthAdjust="spacingAndGlyphs">ITCS</text>
<rect x="363.2" y="1486.0" width="88.3" height="147.5" rx="8" fill="#9b9b9b" />
<rect x="372.7" y="1496.2" width="69.1" height="91.0" fill="#7a7a7a"/>
<rect x="376.5" y="1509.2" width="61.3" height="19.2" fill="#dcdcdc"/>
<rect x="376.5" y="1534.0" width="61.3" height="19.5" fill="#dcdcdc"/>
<rect x="376.5" y="1559.0" width="61.3" height="19.2" fill="#dcdcdc"/>
<text x="379.8" y="1621.2" font-size="36" font-weight="bold" font-style="normal" fill="#fff" textLength="55.4" lengthAdjust="spacingAndGlyphs">DFI</text>
<rect x="799.4" y="183" width="146.3" height="94.6" fill="#fff" stroke="#9b9b9b" stroke-width="4.6"/>
<polygon points="801,247 842.5,250.6 801,275.5" fill="#e4e4e4" stroke="#9b9b9b" stroke-width="3.2" stroke-linejoin="round"/>
<path d="M847,216.7 H943.2" stroke="#dd5b3b" stroke-width="4.2" fill="none"/>
<path d="M847,226.8 H943.2" stroke="#efc050" stroke-width="2.8" fill="none"/>
<path d="M847,236.1 H943.2" stroke="#2d6b9e" stroke-width="3.3" fill="none"/>
<path d="M857.5,195.4 V216.7" stroke="#dd5b3b" stroke-width="2.8" fill="none"/><circle cx="857.5" cy="195.4" r="5" fill="#dd5b3b"/><circle cx="857.5" cy="216.7" r="5" fill="#dd5b3b"/>
<path d="M924.8,195.4 H897 Q887,195.4 887,205.4 V226.8" stroke="#efc050" stroke-width="2.8" fill="none"/><circle cx="924.8" cy="195.4" r="5" fill="#efc050"/><circle cx="887" cy="226.8" r="5" fill="#efc050"/>
<path d="M908.2,216.7 V262.7" stroke="#dd5b3b" stroke-width="2.8" fill="none"/><circle cx="908.2" cy="216.7" r="5" fill="#dd5b3b"/><circle cx="908.2" cy="262.7" r="5" fill="#dd5b3b"/>
<path d="M877.7,236.1 V262.7" stroke="#2d6b9e" stroke-width="2.8" fill="none"/><circle cx="877.7" cy="262.7" r="5" fill="#2d6b9e"/>
<path d="M870.9,216.7 V238 Q870.9,247 861.9,247 H856 Q845,247 845,256 V262.7" stroke="#dd5b3b" stroke-width="2.6" fill="none"/><circle cx="845" cy="262.7" r="5" fill="#dd5b3b"/>
<polygon points="787.5,151.2 844.3,157.2 844.3,248.3 787.5,243.4" fill="#fff" stroke="#9b9b9b" stroke-width="4.4" stroke-linejoin="miter"/>
<path d="M1583.3,239.5 L1555,301.3 L1606,248.3" fill="none" stroke="#9b9b9b" stroke-width="4.8" stroke-linejoin="miter" stroke-linecap="round"/>
<path d="M1606,248.3 A61,41.3 0 1 0 1583.3,239.5" fill="none" stroke="#9b9b9b" stroke-width="4.8"/>
<path d="M1786,224 L1852.5,293.5 L1818.5,212.3" fill="none" stroke="#9b9b9b" stroke-width="4.8" stroke-linejoin="miter" stroke-linecap="round"/>
<path d="M1818.5,212.3 A74,50.5 0 1 0 1786,224" fill="none" stroke="#9b9b9b" stroke-width="4.8"/>
<rect x="1159.9" y="508.2" width="174.3" height="115.6" rx="4" fill="#9b9b9b" />
<rect x="1166" y="519" width="162.2" height="92.3" fill="#fff"/>
<rect x="1222.2" y="627.8" width="49.9" height="21.7" fill="#9b9b9b"/>
<rect x="1159.9" y="652.3" width="174.3" height="4" rx="2" fill="#9b9b9b"/>
<rect x="1174.7" y="534.3" width="76.3" height="2.6" fill="#8a8a8a"/>
<rect x="1174.7" y="540.5" width="70.7" height="2.6" fill="#8a8a8a"/>
<rect x="1174.7" y="546.6" width="67.0" height="2.6" fill="#8a8a8a"/>
<rect x="1174.7" y="552.3" width="76.3" height="2.6" fill="#8a8a8a"/>
<rect x="1174.7" y="558.2" width="76.3" height="2.6" fill="#8a8a8a"/>
<rect x="1174.7" y="563.3" width="76.3" height="2.6" fill="#8a8a8a"/>
<rect x="1174.7" y="568.4" width="76.3" height="2.6" fill="#8a8a8a"/>
<rect x="1174.7" y="573.6" width="76.3" height="2.6" fill="#8a8a8a"/>
<rect x="1174.7" y="582.3" width="62.1" height="2.6" fill="#8a8a8a"/>
<rect x="1174.7" y="588.4" width="72.9" height="2.6" fill="#8a8a8a"/>
<rect x="1174.7" y="594.1" width="68.3" height="2.6" fill="#8a8a8a"/>
<path d="M1259.6,574.6 l0.6,13.2 l3.2,-3 l3.6,6.6 l2.6,-1.4 l-3.6,-6.4 l4.6,-0.6 Z" fill="#111"/>
<polygon points="1598,662 1731.2,662 1731.2,545 1700,545" fill="#9b9b9b"/>
<ellipse cx="1679.7" cy="494.2" rx="9" ry="12" fill="#9b9b9b"/>
<path d="M1670,552 V518 Q1670,507.7 1679.8,507.7 Q1689.5,507.7 1689.5,518 V552 Z" fill="#9b9b9b"/>
<path d="M1555,643 H1588 Q1606.9,643 1619.5,629.2 L1691,550.8 Q1703.9,536.7 1723,536.7 H1747.2" fill="none" stroke="#9b9b9b" stroke-width="42" stroke-linecap="round" stroke-linejoin="round"/>
<path d="M1555,643 H1588 Q1606.9,643 1619.5,629.2 L1691,550.8 Q1703.9,536.7 1723,536.7 H1747.2" fill="none" stroke="#fff" stroke-width="29.5" stroke-linecap="round" stroke-linejoin="round"/>
<rect x="1836.3" y="498.9" width="134.3" height="134.0" rx="4.5" fill="#08629e" />
<rect x="1855.9" y="518.7" width="95.6" height="95.9" fill="#fff"/>
<path d="M1864.9,545.8 V543.6 Q1864.9,537.6 1871,537.6 H1936.5 Q1942.6,537.6 1942.6,543.6 V545.8 Z" fill="#0c0c0c"/>
<path d="M1864.9,587.5 H1942.6 V589.3 Q1942.6,595.3 1936.5,595.3 H1871 Q1864.9,595.3 1864.9,589.3 Z" fill="#0c0c0c"/>
<rect x="1864.9" y="583.6" width="77.7" height="1.5" fill="#0c0c0c"/>
<text x="1863.7" y="583.4" font-size="48" font-weight="bold" font-style="normal" fill="#0c0c0c" stroke="#0c0c0c" stroke-width="0.4" textLength="28.3" lengthAdjust="spacingAndGlyphs">P</text>
<text x="1913.8" y="583.4" font-size="48" font-weight="bold" font-style="normal" fill="#0c0c0c" stroke="#0c0c0c" stroke-width="0.4" textLength="29.1" lengthAdjust="spacingAndGlyphs">R</text>
<path d="M1896,564.2 H1910.6 V568.8 H1896 Z M1901,559.4 H1905.6 V573.6 H1901 Z" fill="#0c0c0c"/>
<circle cx="1769" cy="1035.5" r="65" fill="#0b5c96"/>
<text x="1718.9" y="1052.0" font-size="50" font-weight="bold" font-style="normal" fill="#fff" textLength="98.3" lengthAdjust="spacingAndGlyphs">zDH</text>
<circle cx="1669.7" cy="1224.6" r="65.3" fill="#11957b"/>
<clipPath id="vrsc"><circle cx="1669.7" cy="1224.6" r="65.3"/></clipPath>
<path d="M1590,1182.7 H1690.1 A24.7,24.7 0 0 1 1690.1,1232.1 H1590 Z" fill="#fff" clip-path="url(#vrsc)"/>
<text x="1594.7" y="1227.0" font-size="53" font-weight="bold" font-style="italic" fill="#111" stroke="#111" stroke-width="2.2" textLength="105.6" lengthAdjust="spacingAndGlyphs">VRS</text>
<rect x="109.0" y="1051.5" width="158.0" height="107.5" rx="7" fill="#9b9b9b" />
<rect x="117" y="1060" width="142" height="90" fill="#fff"/>
<ellipse cx="188.4" cy="1081.6" rx="11.4" ry="7.2" fill="#e30613"/>
<rect x="178" y="1097.7" width="20.8" height="35.6" fill="#e30613"/>
<rect x="362.3" y="1837.3" width="89.6" height="130.4" rx="6" fill="#9b9b9b" />
<rect x="370" y="1845" width="75" height="115" fill="#fff"/>
<ellipse cx="407.3" cy="1872" rx="14.5" ry="9" fill="#e30613"/>
<rect x="394.4" y="1890" width="25.9" height="45.6" fill="#e30613"/>
<rect x="912.8" y="1482.8" width="174.8" height="118.2" rx="8" fill="#9b9b9b" />
<rect x="922.5" y="1493" width="74" height="98" fill="#fff"/>
<rect x="996.5" y="1493" width="81" height="98" fill="#737373"/>
<ellipse cx="961.2" cy="1517.3" rx="10.8" ry="7.7" fill="#e30613"/>
<rect x="951.5" y="1532.9" width="20.3" height="35.3" fill="#e30613"/>
<path d="M1029.5,1493 V1591" stroke="#c8633f" stroke-width="4.5" fill="none"/>
<path d="M1043.8,1493 V1591" stroke="#2a6b9e" stroke-width="3.2" fill="none"/>
<path d="M1026.7,1519.2 H1066 M1062,1515.4 l7,3.8 l-7,3.8 Z" stroke="#c8633f" stroke-width="2.6" fill="#c8633f"/>
<path d="M1044,1544.9 H1064 M1060,1541.4 l6.5,3.5 l-6.5,3.5 Z" stroke="#2a6b9e" stroke-width="2.4" fill="#2a6b9e"/>
<path d="M1030,1563 H1014 M1018,1559.4 l-7,3.6 l7,3.6 Z" stroke="#c8633f" stroke-width="2.6" fill="#c8633f"/>
<path d="M1037,1551 H1045 Q1053,1551 1053,1559 V1562 Q1053,1571 1061,1571 H1066 M1063,1567.6 l6.5,3.4 l-6.5,3.4 Z" stroke="#c8633f" stroke-width="2.6" fill="none"/>
<path d="M1036.9,1493 V1591" stroke="#dab56b" stroke-width="3.4" fill="none"/>
<path d="M1012,1505 V1528 Q1012,1538 1022,1538 H1037" stroke="#dab56b" stroke-width="3.4" fill="none"/><circle cx="1012" cy="1504.5" r="3.6" fill="#dab56b"/><circle cx="1037" cy="1538" r="3" fill="#dab56b"/>
<rect x="912.8" y="1816.4" width="174.2" height="116.0" rx="4" fill="#9b9b9b" />
<rect x="919" y="1826.7" width="162.0" height="93.1" fill="#fff"/>
<rect x="974.9" y="1936.4" width="50.1" height="20.5" fill="#9b9b9b"/>
<rect x="912.8" y="1961.2" width="174.2" height="4" rx="2" fill="#9b9b9b"/>
<text x="940.0" y="1889.1" font-size="38" font-weight="bold" font-style="italic" fill="#111" stroke="#111" stroke-width="2.2" textLength="66.0" lengthAdjust="spacingAndGlyphs">KVB</text>
<circle cx="1034.9" cy="1875" r="22.25" fill="#fff" stroke="#d9101d" stroke-width="5.1"/>
<path d="M1012.7,1871.2 H1038.4 L1029.9,1862.6 H1037.9 L1050.3,1875.0 L1037.9,1887.4 H1029.9 L1038.4,1878.8 H1012.7 Z" fill="#d9101d"/>
<rect x="1276.1" y="1798.9" width="50.9" height="94.1" rx="3.5" fill="#9b9b9b" />
<rect x="1278.6" y="1808" width="46.2" height="72.6" fill="#fff"/>
<circle cx="1301.6" cy="1886.7" r="3.3" fill="#fff"/>
<circle cx="1302" cy="1846.3" r="16.35" fill="#fff" stroke="#d9101d" stroke-width="3.7"/>
<path d="M1285.6,1843.5 H1304.5 L1298.4,1837.2 H1304.2 L1313.3,1846.3 L1304.2,1855.4 H1298.4 L1304.5,1849.1 H1285.6 Z" fill="#d9101d"/>
<circle cx="1614.7" cy="1531.2" r="19.4" fill="#9b9b9b"/><circle cx="1752.8" cy="1531.2" r="19.6" fill="#9b9b9b"/>
<polygon points="1625,1523 1703.6,1523 1717.8,1494.5 1737.7,1494.5 1721.2,1539.9 1643.8,1539.9 1630,1534.4" fill="#9b9b9b"/>
<path d="M1752.8,1531 L1731.5,1435" stroke="#9b9b9b" stroke-width="6.6" fill="none"/>
<circle cx="1723.5" cy="1425" r="7" fill="#9b9b9b"/>
</svg>
</body></html>
